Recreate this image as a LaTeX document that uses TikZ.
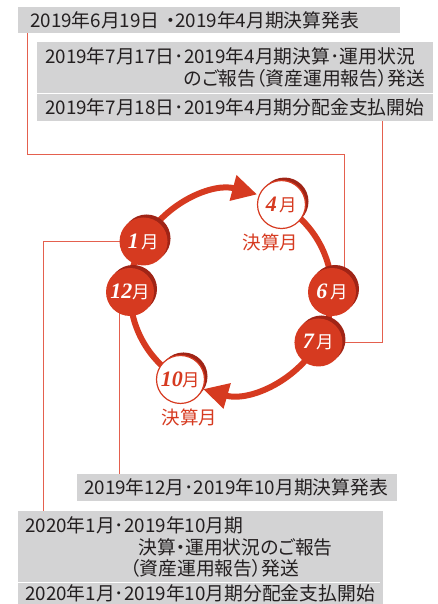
\documentclass[tikz,border=0pt]{standalone}
\usepackage{fontspec}
\usepackage{tikz}
\setmainfont{Noto Sans CJK JP}[RawFeature=+palt]
\newfontfamily\digitfont{Liberation Serif}
\usetikzlibrary{arrows.meta,shadows,calc,positioning}

\definecolor{ringred}{RGB}{214,58,32}
\definecolor{ringdark}{RGB}{160,36,22}
\definecolor{boxgray}{RGB}{211,211,212}
\definecolor{linered}{RGB}{228,96,78}
\definecolor{textgray}{RGB}{35,31,32}

\newcommand{\mnum}[1]{{\digitfont\bfseries\itshape\fontsize{22}{22}\selectfont #1}}

\begin{document}
\begin{tikzpicture}[>=latex,x=1pt,y=1pt]

  \tikzstyle{G}=[fill=boxgray, anchor=north west, align=left, inner ysep=0pt,
    text=textgray, font=\fontsize{18.8}{21.5}\selectfont];
  \tikzstyle{L}=[linered, line width=1pt];
  \tikzstyle{R}=[ringred, line width=6pt];
  \tikzstyle{M}=[circle, fill=ringred, minimum size=48pt, inner sep=0pt,
    text=white, font=\fontsize{17.5}{17.5}\selectfont,
    drop shadow={shadow xshift=3pt, shadow yshift=3pt, opacity=1, fill=ringdark}];
  \tikzstyle{W}=[M, fill=white, draw=ringred, line width=1.2pt, text=ringred];
  \tikzstyle{K}=[text=ringred, inner sep=0pt, font=\fontsize{18.5}{18.5}\selectfont];

  \useasboundingbox (0,0) rectangle (438,604);

  %% schedule boxes
  \node [G, inner xsep=12pt, text width=358pt, minimum height=26pt] (d1) at (18,597)
    {2019年6月19日\ ・2019年4月期決算発表};
  \node [G, inner xsep=8pt, text width=380pt, minimum height=51pt] (d2) at (37,562)
    {2019年7月17日･2019年4月期決算･運用状況\\
     \phantom{2019年7月17日･}のご報告（資産運用報告）発送};
  \node [G, inner xsep=8pt, text width=380pt, minimum height=27pt] (d3) at (d2.south west)
    {2019年7月18日･2019年4月期分配金支払開始};
  \draw[white, line width=1.5pt] (d3.north west) -- ([xshift=-6pt]d3.north east);

  \node [G, inner xsep=7pt, text width=306pt, minimum height=27pt] (d4) at (77,130)
    {2019年12月･2019年10月期決算発表};
  \node [G, inner xsep=7pt, text width=351pt, minimum height=72pt] (d5) at (18,93)
    {2020年1月･2019年10月期\\
     \hspace*{113pt}決算・運用状況のご報告\\
     \hspace*{105pt}（資産運用報告）発送};
  \node [G, inner xsep=7pt, text width=351pt, minimum height=21pt, yshift=1pt] (d6) at (d5.south west)
    {2020年1月･2019年10月期分配金支払開始};
  \draw[white, line width=1.5pt] (d6.north west) -- ([xshift=-3pt]d6.north east);

  %% months on the ring
  \coordinate (c) at (231,312);
  \coordinate (m4) at ($(c)+(60:101)$);
  \coordinate (m6) at ($(c)+(0:101)$);
  \coordinate (m7) at ($(c)+(-30:101)$);
  \coordinate (m10) at ($(c)+(-120:101)$);
  \coordinate (m12) at ($(c)+(180:101)$);
  \coordinate (m1) at ($(c)+(150:101)$);

  %% leader lines
  \coordinate (k1) at (344,449);
  \draw[L] ([xshift=9pt]d1.south west) |- (k1) -- (k1 |- m6);
  \draw[L] (m7) -| ([xshift=-51pt]d3.south east);
  \draw[L] (m1) -| ([xshift=25pt]d5.north west);
  \draw[L] ([xshift=42pt]d4.north west) |- (m12);

  %% ring
  \draw[R,-{Triangle[length=25pt,width=25pt]}] (m1) arc[start angle=150,end angle=75,radius=101];
  \draw[R] (m4) arc[start angle=60,end angle=-30,radius=101];
  \draw[R,-{Triangle[length=25pt,width=25pt]}] (m7) arc[start angle=-30,end angle=-106,radius=101];
  \draw[R] (m10) arc[start angle=-120,end angle=-210,radius=101];

  \node [W] (n4) at (m4) {\mnum{4}\,月};
  \node [M] (n6) at (m6) {\mnum{6}\,月};
  \node [M] (n7) at (m7) {\mnum{7}\,月};
  \node [W] (n10) at (m10) {\mnum{10}月};
  \node [M] (n12) at (m12) {\mnum{12}月};
  \node [M] (n1) at (m1) {\mnum{1}\,月};

  \node [K, below=5pt of n4, xshift=-11pt] (s4) {決算月};
  \node [K, below=5pt of n10, xshift=9pt] (s10) {決算月};

\end{tikzpicture}
\end{document}
